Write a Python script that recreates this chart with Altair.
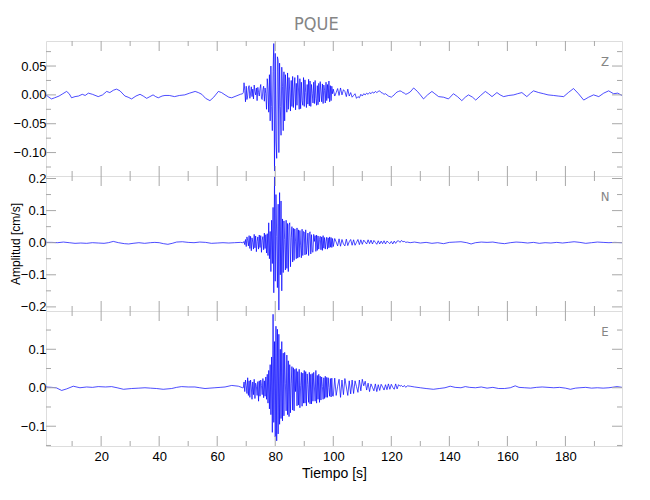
import altair as alt
import pandas as pd

# ---------------- data ----------------
TITLE = "PQUE"
X_TITLE = "Tiempo [s]"
Y_TITLE = "Amplitud [cm/s]"
COMPONENTS = ["Z", "N", "E"]

X_DOMAIN = [1.0, 199.5]
X_MAJOR = [20, 40, 60, 80, 100, 120, 140, 160, 180]
X_MINOR = [10, 30, 50, 70, 90, 110, 130, 150, 170, 190]

Y_DOMAIN = {"Z": [-0.1406, 0.0934], "N": [-0.2128, 0.2078], "E": [-0.1514, 0.1995]}
Y_MAJOR = {"Z": [-0.10, -0.05, 0.0, 0.05], "N": [-0.2, -0.1, 0.0, 0.1, 0.2], "E": [-0.1, 0.0, 0.1]}
Y_MINOR = {"Z": [-0.125, -0.075, -0.025, 0.025, 0.075], "N": [-0.15, -0.05, 0.05, 0.15],
           "E": [-0.15, -0.05, 0.05, 0.15]}
Y_FORMAT = {"Z": ".2f", "N": ".1f", "E": ".1f"}

# sampling of the strong-motion window
ACT_START, ACT_STEP = 69.0, 0.25
CODA_START, CODA_STEP = 100.0, 0.5

# ---- Z component ----
z_pre_t = [1, 2, 2.9, 4, 5.5, 6.8, 8.1, 9, 9.8, 11, 12.2, 13.5, 14.5, 15.6, 17, 19, 20.5, 21.9, 23, 24.2,
           25.3, 26.5, 28.2, 29.3, 30.5, 32, 33.4, 34.5, 35.7, 36.8, 37.9, 38.8, 39.7, 41, 42, 43.5, 45.3,
           47, 48.8, 50.5, 52.4, 53.5, 54.7, 56, 57.5, 58.8, 60.4, 61.5, 62.7, 64, 65, 66.5, 68, 68.75]
z_pre_v = [0.000, -0.004, -0.007, -0.005, -0.002, 0.002, 0.006, 0.002, -0.005, -0.003, -0.002, 0.001,
           -0.001, 0.003, 0.001, -0.003, 0.000, 0.006, 0.004, 0.008, 0.010, 0.007, -0.002, -0.004, -0.007,
           -0.002, 0.001, -0.002, -0.006, -0.003, 0.000, -0.003, -0.005, -0.002, -0.001, -0.001, -0.003,
           -0.001, 0.000, 0.003, 0.006, 0.004, 0.001, -0.006, -0.010, -0.004, 0.006, 0.004, 0.000, -0.004,
           -0.005, -0.002, 0.001, 0.002]
z_act = [
    0.004, 0.021, 0.008, -0.012, 0.015, -0.008, -0.002, 0.012, 0.016, -0.006, 0.003, 0.014,
    -0.003, 0.010, -0.007, 0.017, 0.006, 0.000, 0.012, -0.010, 0.013, 0.004, -0.002, 0.011,
    0.018, -0.006, -0.008, 0.009, 0.015, -0.011, 0.012, 0.002, -0.025, 0.028, 0.010, -0.030,
    0.035, -0.045, 0.050, -0.020, -0.062, 0.040, 0.089, -0.132, 0.072, -0.080, -0.110, 0.066,
    0.060, -0.100, 0.055, -0.020, -0.070, 0.048, 0.015, -0.062, 0.040, -0.045, 0.035, 0.010,
    -0.030, 0.038, -0.025, 0.030, 0.005, -0.028, 0.025, -0.020, 0.032, -0.022, 0.010, 0.030,
    -0.026, 0.020, -0.018, 0.034, 0.012, -0.025, 0.028, -0.024, 0.022, -0.010, -0.018, 0.030,
    -0.020, 0.026, 0.004, -0.022, 0.018, -0.016, 0.027, -0.019, 0.024, -0.020, 0.018, 0.002,
    -0.014, 0.022, -0.015, 0.025, -0.006, -0.018, 0.016, -0.017, 0.020, -0.012, 0.023, 0.005,
    -0.012, 0.019, -0.015, 0.017, 0.008, -0.014, 0.022, -0.010, 0.018, -0.006, 0.024, -0.012,
    0.016, -0.010, 0.015, 0.002]
z_coda = [
    0.010, -0.002, 0.004, 0.011, -0.001, 0.012, 0.000, 0.009, 0.006, -0.003, 0.010, -0.002,
    0.004, -0.004, -0.001, 0.002, -0.006, -0.003, -0.005, 0.001, -0.002, 0.002, 0.000, 0.003,
    0.001, 0.004, 0.002, 0.005, 0.003, 0.006, 0.004, 0.006, 0.007, 0.004, 0.003, 0.001,
    0.002, 0.000, -0.002, -0.003, -0.004, -0.002, 0.000, 0.003, 0.005, 0.006, 0.007, 0.006,
    0.004, 0.003, 0.001, 0.002]
z_post_t = [126.5, 127.7, 129, 130, 131.1, 132.5, 134, 135, 136.3, 138, 139.7, 141.4, 142.8, 144.3, 145.5,
            146.6, 148, 149.1, 150.8, 152.4, 153.5, 154.7, 156.4, 157.5, 158.7, 160.5, 162.2, 163.5, 165,
            166.7, 168, 169, 170.8, 172.5, 174, 175.9, 177.5, 179.4, 181, 182.8, 184.5, 186.3, 188, 189.7,
            191.5, 193.2, 194.9, 196.6, 198, 199.5]
z_post_v = [0.005, 0.012, 0.006, 0.000, -0.007, 0.000, 0.006, 0.002, -0.003, -0.004, -0.007, 0.002, -0.003,
            -0.010, -0.004, 0.000, -0.004, -0.009, -0.001, 0.006, 0.002, -0.003, 0.004, 0.000, -0.003, -0.001,
            0.000, 0.002, 0.004, -0.003, 0.003, 0.007, 0.004, 0.002, 0.000, -0.001, -0.002, -0.003, 0.004,
            0.011, 0.002, -0.009, -0.004, 0.000, -0.003, 0.003, 0.007, 0.002, 0.003, -0.001]

# ---- N component ----
n_pre_t = [1, 3, 5, 7, 9, 11, 13, 15, 17, 19, 21, 22.5, 24.2, 26, 28, 29.5, 31, 33, 35, 37, 38.5, 40, 41.5,
           43, 44.5, 46, 48, 50, 52, 54, 56, 58, 60, 62, 64, 66, 68, 68.75]
n_pre_v = [0.001, 0.001, 0.000, 0.002, 0.000, -0.002, -0.001, -0.002, 0.000, -0.001, -0.002, 0.000, 0.004,
           0.000, -0.003, -0.004, -0.002, 0.000, -0.002, 0.000, 0.001, 0.000, -0.003, -0.005, -0.002, 0.002,
           0.003, 0.001, 0.000, 0.002, 0.001, -0.002, -0.001, 0.000, -0.001, 0.000, 0.001, 0.000]
n_act = [
    0.000, 0.004, -0.006, 0.010, -0.012, 0.018, 0.006, -0.010, 0.022, -0.018, 0.020, -0.025,
    0.015, 0.002, -0.020, 0.026, -0.016, 0.021, -0.028, 0.004, 0.018, -0.020, 0.024, -0.015,
    0.022, -0.030, 0.008, 0.019, -0.022, 0.030, -0.018, 0.025, -0.032, 0.028, -0.040, 0.062,
    -0.050, 0.035, -0.090, 0.070, -0.065, 0.110, -0.156, 0.205, -0.120, 0.150, 0.020, -0.140,
    0.120, -0.210, 0.156, -0.100, 0.130, -0.150, 0.074, -0.093, 0.068, 0.010, -0.085, 0.070,
    -0.080, 0.060, -0.090, 0.055, 0.062, -0.075, 0.015, 0.050, -0.060, 0.045, -0.055, 0.043,
    0.005, -0.050, 0.046, -0.048, 0.040, -0.045, 0.038, -0.010, -0.047, 0.042, -0.040, 0.035,
    0.033, -0.038, 0.040, -0.036, -0.010, 0.030, -0.040, 0.028, 0.034, -0.035, 0.025, -0.028,
    -0.030, 0.026, 0.004, 0.022, -0.027, 0.024, -0.024, 0.021, -0.020, 0.010, 0.020, -0.022,
    0.018, -0.024, 0.022, -0.017, 0.016, -0.020, 0.003, 0.017, -0.020, 0.015, -0.016, 0.018,
    -0.014, 0.016, -0.015, 0.013]
n_coda = [
    -0.012, 0.013, 0.002, -0.010, 0.012, -0.011, 0.010, -0.004, -0.010, 0.011, -0.009, 0.003,
    0.010, -0.008, 0.009, -0.008, 0.001, 0.010, -0.006, 0.009, -0.005, 0.008, 0.002, -0.004,
    0.009, -0.003, 0.008, -0.004, 0.007, 0.001, -0.005, 0.006, -0.004, 0.005, -0.003, 0.006,
    -0.004, 0.005, 0.001, -0.003, 0.004, -0.004, 0.005, -0.002, 0.005, 0.006, 0.001, 0.007,
    0.003, 0.004, 0.001, 0.002]
n_post_t = [126.5, 128, 130, 132, 134, 136, 138, 140, 142, 144, 146, 147.5, 149, 151, 153, 155, 157, 159,
            161, 163, 165, 167, 169, 171, 173, 175, 177, 179, 181, 183, 185, 187, 189, 191, 193, 195, 197,
            199.5]
n_post_v = [0.000, 0.002, -0.001, 0.001, -0.002, 0.000, -0.003, 0.001, 0.002, 0.003, 0.000, -0.004, 0.000,
            0.002, 0.001, 0.002, -0.001, -0.003, 0.000, 0.002, 0.001, -0.001, 0.001, -0.002, 0.000, -0.001,
            0.001, -0.001, 0.001, 0.003, 0.001, -0.002, 0.000, 0.002, 0.001, 0.000, 0.001, 0.000]

# ---- E component ----
e_pre_t = [1, 3, 4.5, 6.4, 8.1, 10.4, 12.7, 15, 17, 19, 21.5, 23.6, 25.5, 27.7, 30.5, 33, 35.1, 37, 39.1,
           41.4, 44.3, 46, 47.7, 50, 52.3, 54, 55.8, 57.5, 59.2, 61, 62.7, 65, 67.3, 68.75]
e_pre_v = [0.002, 0.001, 0.000, -0.007, -0.003, 0.004, 0.000, 0.002, 0.001, 0.003, 0.002, 0.003, 0.000,
           -0.004, -0.002, -0.001, 0.000, -0.001, -0.002, -0.004, -0.002, 0.001, 0.003, 0.002, 0.002, 0.000,
           -0.002, -0.001, 0.000, 0.001, 0.002, 0.006, 0.004, 0.000]
e_act = [
    0.000, 0.015, -0.010, 0.020, 0.005, -0.015, 0.026, -0.020, 0.018, -0.025, 0.020, 0.002,
    -0.030, 0.015, -0.018, 0.022, -0.028, 0.012, 0.004, -0.020, 0.016, -0.035, 0.018, -0.022,
    0.020, 0.006, -0.018, 0.024, -0.026, 0.018, -0.022, 0.028, -0.030, 0.035, -0.040, 0.045,
    -0.055, 0.060, -0.070, 0.080, -0.116, 0.191, -0.090, 0.120, -0.128, 0.160, -0.138, 0.152,
    -0.120, 0.139, -0.095, 0.100, -0.080, 0.120, -0.086, 0.090, -0.073, 0.092, 0.010, -0.060,
    0.085, -0.070, 0.070, -0.075, 0.060, -0.065, 0.010, 0.055, -0.058, 0.052, -0.060, 0.048,
    -0.010, 0.050, -0.047, 0.042, -0.045, 0.048, -0.052, 0.005, 0.040, -0.048, 0.038, -0.040,
    0.045, -0.040, 0.042, -0.047, 0.036, 0.008, -0.038, 0.040, -0.042, 0.035, -0.042, 0.037,
    -0.035, 0.040, 0.002, -0.035, 0.045, -0.040, 0.032, -0.030, 0.035, -0.038, 0.030, -0.032,
    0.028, 0.003, -0.030, 0.026, -0.028, 0.030, -0.025, 0.027, -0.025, 0.026, 0.001, -0.022,
    0.024, -0.024, 0.025, -0.021]
e_coda = [
    -0.022, 0.025, -0.020, 0.004, 0.022, -0.025, 0.020, -0.018, 0.024, 0.002, -0.020, 0.018,
    -0.016, 0.020, -0.015, 0.018, 0.003, -0.012, 0.020, -0.008, 0.022, 0.005, 0.017, -0.006,
    0.012, -0.010, 0.010, 0.001, -0.008, 0.010, -0.010, 0.008, -0.007, 0.009, 0.002, -0.006,
    0.008, -0.005, 0.010, -0.004, 0.009, 0.001, -0.004, 0.010, -0.003, 0.008, 0.004, 0.006,
    0.002, 0.006, 0.001, 0.005]
e_post_t = [126.5, 128, 130, 132, 134.5, 136.5, 138.5, 140.3, 142, 144, 145.5, 147, 149, 151, 153, 155, 157,
            159, 161, 162.7, 164, 166, 168, 170, 172, 174, 176, 178, 180, 181.7, 183.5, 185, 187, 189, 191,
            193, 195, 197.8, 199.5]
e_post_v = [0.004, 0.002, 0.000, -0.002, -0.004, -0.002, 0.000, 0.004, 0.001, 0.000, 0.003, 0.001, 0.000,
            0.002, -0.001, 0.001, -0.002, -0.002, 0.000, 0.005, 0.001, 0.000, -0.001, 0.001, 0.002, 0.001,
            0.000, 0.001, -0.001, -0.004, -0.001, 0.000, 0.001, -0.001, 0.000, -0.001, 0.000, 0.003, 0.001]

TRACES = {
    "Z": (z_pre_t, z_pre_v, z_act, z_coda, z_post_t, z_post_v),
    "N": (n_pre_t, n_pre_v, n_act, n_coda, n_post_t, n_post_v),
    "E": (e_pre_t, e_pre_v, e_act, e_coda, e_post_t, e_post_v),
}

# ---------------- styling ----------------
W, H = 576, 135
FONT = "Liberation Sans Narrow, DejaVu Sans Condensed, Roboto Condensed, Liberation Sans, sans-serif"
TXT = "#858585"
AX = "#a8a8a8"
TRACE = "#0000ff"


def trace_frame(comp):
    pre_t, pre_v, act, coda, post_t, post_v = TRACES[comp]
    t = list(pre_t)
    t += [ACT_START + ACT_STEP * i for i in range(len(act))]
    t += [CODA_START + CODA_STEP * i for i in range(len(coda))]
    t += list(post_t)
    v = list(pre_v) + list(act) + list(coda) + list(post_v)
    return pd.DataFrame({"t": t, "v": v, "i": range(len(t))})


def panel(comp, bottom=False, ytitle=False):
    xscale = alt.Scale(domain=X_DOMAIN, nice=False, zero=False)
    yscale = alt.Scale(domain=Y_DOMAIN[comp], nice=False, zero=False)

    if bottom:
        xaxis = alt.Axis(values=X_MAJOR, format="d", ticks=False, domain=False, grid=False,
                         labelPadding=4, labelFontSize=13, title=X_TITLE, titleFontSize=14,
                         titlePadding=3, titleFontWeight="normal")
    else:
        xaxis = None

    yaxis = alt.Axis(values=Y_MAJOR[comp], format=Y_FORMAT[comp], ticks=False, domain=False, grid=False,
                     labelPadding=0, labelFontSize=13, title=Y_TITLE if ytitle else "",
                     titleFontSize=12, titlePadding=-2, titleFontWeight="normal")

    line = alt.Chart(trace_frame(comp)).mark_line(
        color=TRACE, strokeWidth=0.7, clip=False, interpolate="linear"
    ).encode(
        x=alt.X("t:Q", scale=xscale, axis=xaxis),
        y=alt.Y("v:Q", scale=yscale, axis=yaxis),
        order="i:Q",
    )

    xmaj = pd.DataFrame({"t": X_MAJOR})
    xmin = pd.DataFrame({"t": X_MINOR})
    ymaj = pd.DataFrame({"v": Y_MAJOR[comp]})
    ymin = pd.DataFrame({"v": Y_MINOR[comp]})
    rule = dict(color=AX, strokeWidth=1)

    layers = [line]
    for df, ln in ((xmaj, 10), (xmin, 5)):
        layers.append(alt.Chart(df).mark_rule(**rule).encode(
            x=alt.X("t:Q", scale=xscale, axis=xaxis), y=alt.value(0), y2=alt.value(ln)))
        layers.append(alt.Chart(df).mark_rule(**rule).encode(
            x=alt.X("t:Q", scale=xscale, axis=xaxis), y=alt.value(H - ln), y2=alt.value(H)))
    for df, ln in ((ymaj, 10), (ymin, 5)):
        layers.append(alt.Chart(df).mark_rule(**rule).encode(
            y=alt.Y("v:Q", scale=yscale, axis=yaxis), x=alt.value(0), x2=alt.value(ln)))
        layers.append(alt.Chart(df).mark_rule(**rule).encode(
            y=alt.Y("v:Q", scale=yscale, axis=yaxis), x=alt.value(W - ln), x2=alt.value(W)))

    label = alt.Chart(pd.DataFrame({"c": [comp]})).mark_text(
        font=FONT, fontSize=13, color=TXT, align="center", baseline="middle"
    ).encode(text="c:N", x=alt.value(W - 17), y=alt.value(21))
    layers.append(label)

    return alt.layer(*layers).properties(width=W, height=H)


chart = alt.vconcat(
    panel("Z"), panel("N", ytitle=True), panel("E", bottom=True), spacing=0, bounds="flush"
).resolve_scale(y="independent").properties(
    title=alt.TitleParams(TITLE, fontSize=18, font=FONT, color=TXT, fontWeight="normal",
                          anchor="middle", offset=6),
    padding={"left": 0, "top": 8, "right": 5, "bottom": 5},
).configure_view(
    stroke=AX, strokeWidth=1
).configure_axis(
    labelFont=FONT, titleFont=FONT, labelColor=TXT, titleColor=TXT
).configure(background="white")

chart.save("out.html", embed_options={"renderer": "svg", "actions": False})
